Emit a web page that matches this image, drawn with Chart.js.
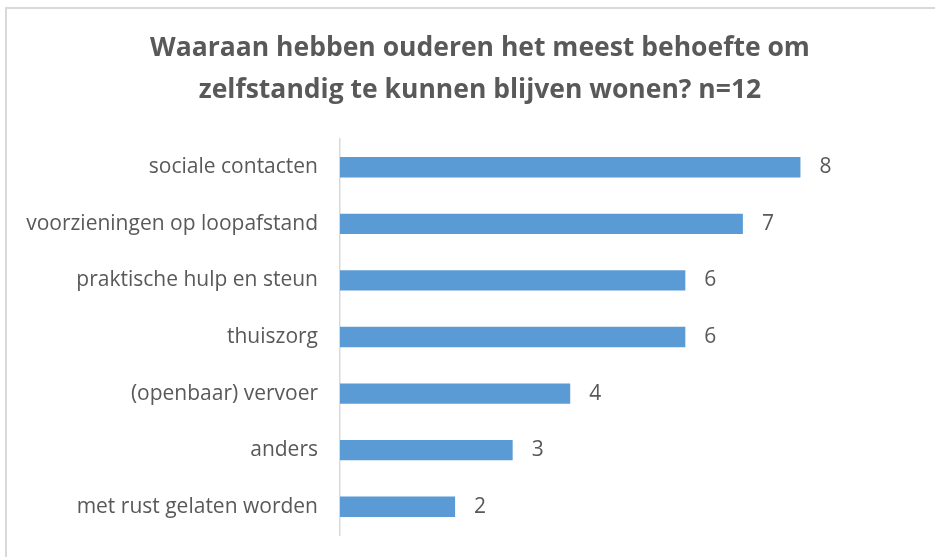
<!DOCTYPE html>
<html>
<head>
<meta charset="utf-8">
<script src="https://cdn.jsdelivr.net/npm/chart.js@4"></script>
<style>
  body { margin: 0; background: #fff; overflow: hidden; }
  #chart { display: block; }
</style>
</head>
<body>
<canvas id="chart" width="935" height="557"></canvas>
<script>
// Data
const categories = [
    'sociale contacten',
    'voorzieningen op loopafstand',
    'praktische hulp en steun',
    'thuiszorg',
    '(openbaar) vervoer',
    'anders',
    'met rust gelaten worden'
];
const counts = [8, 7, 6, 6, 4, 3, 2];
const titleLines = [
    'Waaraan hebben ouderen het meest behoefte om',
    'zelfstandig te kunnen blijven wonen? n=12'
];

const textColor = '#595959';
const fontFamily = '"Open Sans", "Liberation Sans", sans-serif';

// Frame (only top and left edges are in view) and a title centred on the frame
const chartTitle = {
    id: 'chartTitle',
    afterDraw(chart) {
        const ctx = chart.ctx;
        ctx.save();
        ctx.strokeStyle = '#d9d9d9';
        ctx.lineWidth = 2;
        ctx.beginPath();
        ctx.moveTo(6, chart.height);
        ctx.lineTo(6, 8);
        ctx.lineTo(chart.width, 8);
        ctx.stroke();

        ctx.fillStyle = textColor;
        ctx.font = 'bold 26.5px ' + fontFamily;
        ctx.textAlign = 'center';
        ctx.textBaseline = 'middle';
        titleLines.forEach((line, i) => ctx.fillText(line, 480, 48 + i * 42));
        ctx.restore();
    }
};

// Value labels at the end of each bar
const barValues = {
    id: 'barValues',
    afterDatasetsDraw(chart) {
        const ctx = chart.ctx;
        const meta = chart.getDatasetMeta(0);
        ctx.save();
        ctx.fillStyle = textColor;
        ctx.font = '21px ' + fontFamily;
        ctx.textAlign = 'left';
        ctx.textBaseline = 'middle';
        meta.data.forEach((bar, i) => {
            ctx.fillText(String(counts[i]), bar.x + 19, bar.y);
        });
        ctx.restore();
    }
};

new Chart(document.getElementById('chart'), {
    type: 'bar',
    data: {
        labels: categories,
        datasets: [{
            data: counts,
            backgroundColor: '#5b9bd5',
            barPercentage: 0.72,
            categoryPercentage: 0.5
        }]
    },
    options: {
        indexAxis: 'y',
        responsive: false,
        animation: false,
        layout: { padding: { left: 0, right: 77, top: 139, bottom: 22 } },
        plugins: {
            legend: { display: false },
            tooltip: { enabled: false },
            title: { display: false }
        },
        scales: {
            x: { display: false, min: 0, max: 9 },
            y: {
                afterFit(scale) {
                    scale.width = 340;
                    scale.paddingTop = 0;
                    scale.paddingBottom = 0;
                },
                grid: { display: false, drawTicks: false },
                border: { display: true, color: '#d9d9d9', width: 1.5 },
                ticks: {
                    color: textColor,
                    padding: 22,
                    font: { family: fontFamily, size: 21 }
                }
            }
        }
    },
    plugins: [barValues, chartTitle]
});
</script>
</body>
</html>
